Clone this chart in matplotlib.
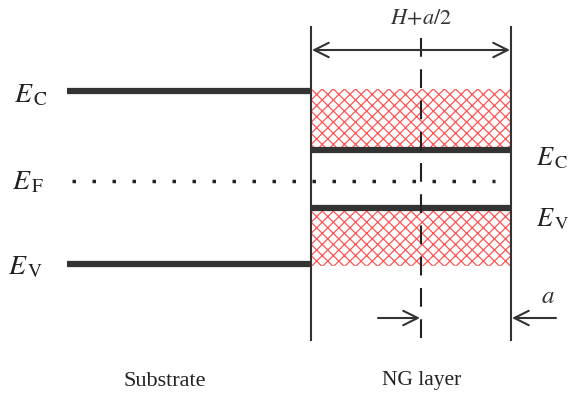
import matplotlib
matplotlib.use('Agg')
from matplotlib import pyplot as plt
from matplotlib.patches import Rectangle

plt.rcParams['mathtext.fontset'] = 'stix'
plt.rcParams['font.family'] = 'Liberation Serif'
plt.rcParams['hatch.linewidth'] = 0.9

# band diagram levels (pixel-like units, y grows downwards)
substrate_levels = [91, 264]          # Ec, Ev in substrate
ng_levels = [150, 208]                # Ec, Ev in NG layer
fermi_level = 181
ng_bands = [(89, 148), (208, 266)]    # hatched (top, bottom)
ng_edges = [311, 511]
substrate_x = [67, 310]
center_x = 421
left_labels = [r'$E_{\,\mathrm{C}}$', r'$E_{\,\mathrm{F}}$', r'$E_{\,\mathrm{V}}$']
left_label_y = [96, 183, 268]
left_label_x = [14, 12, 8]
right_labels = [r'$E_{\,\mathrm{C}}$', r'$E_{\,\mathrm{V}}$']
right_label_y = [158, 219]
region_names = ['Substrate', 'NG layer']


def main():
    fig = plt.figure(figsize=(5.71, 3.95), dpi=100)
    ax = fig.add_axes([0, 0, 1, 1])
    ax.set_xlim(0, 571)
    ax.set_ylim(395, 0)
    ax.axis('off')

    dark = '#333333'

    # hatched bands
    for top, bot in ng_bands:
        ax.add_patch(Rectangle((ng_edges[0], top), ng_edges[1] - ng_edges[0], bot - top,
                               facecolor='white', edgecolor='#ff5555', hatch='xxx',
                               linewidth=0))

    # substrate levels
    for y in substrate_levels:
        ax.plot(substrate_x, [y, y], color=dark, linewidth=4.5, solid_capstyle='butt')
    # NG levels
    for y in ng_levels:
        ax.plot(ng_edges, [y, y], color=dark, linewidth=4.5, solid_capstyle='butt')

    # Fermi level dotted
    ax.plot([72, 495], [fermi_level, fermi_level], color='#222222', linewidth=2.5,
            linestyle=(0, (1, 4.76)))

    # vertical boundaries
    for x in ng_edges:
        ax.plot([x, x], [27, 340], color=dark, linewidth=1.5)
    ax.plot([center_x, center_x], [38, 342], color='#222222', linewidth=1.5,
            linestyle=(0, (9, 6)))

    # width arrow
    arrow_kw = dict(color=dark, lw=1.5, mutation_scale=26, shrinkA=0, shrinkB=0)
    ax.annotate('', xy=(ng_edges[0] + 1, 50), xytext=(ng_edges[1] - 1, 50),
                arrowprops=dict(arrowstyle='<->', **arrow_kw))
    ax.text(center_x, 19, r'$H\!+\!a/2$', fontsize=16, ha='center', va='center',
            color=dark)

    # bottom arrows
    ax.annotate('', xy=(center_x - 1, 318), xytext=(378, 318),
                arrowprops=dict(arrowstyle='->', **arrow_kw))
    ax.annotate('', xy=(ng_edges[1] + 1, 318), xytext=(556, 318),
                arrowprops=dict(arrowstyle='->', **arrow_kw))
    ax.text(548, 297, r'$a$', fontsize=18, ha='center', va='center', color=dark)

    # labels
    for lab, x, y in zip(left_labels, left_label_x, left_label_y):
        ax.text(x, y, lab, fontsize=20, ha='left', va='center', color='#222222')
    for lab, y in zip(right_labels, right_label_y):
        ax.text(536, y, lab, fontsize=19, ha='left', va='center', color='#222222')

    ax.text(165, 381, region_names[0], fontsize=16, ha='center', va='center', color='#222222')
    ax.text(422, 381, region_names[1], fontsize=15.5, ha='center', va='center', color='#222222')

    fig.savefig('out.png', dpi=100)


if __name__ == '__main__':
    main()
